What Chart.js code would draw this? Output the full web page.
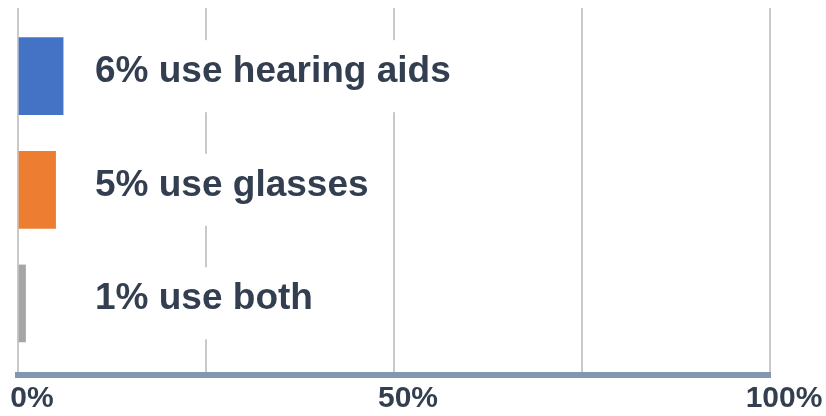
<!DOCTYPE html>
<html lang="en">
<head>
    <meta charset="UTF-8">
    <title>Hearing aids and glasses</title>
    <script src="https://cdn.jsdelivr.net/npm/chart.js"></script>
    <style>
        body {
            margin: 0;
            background: #ffffff;
        }
        #wrap {
            width: 826px;
            height: 416px;
        }
    </style>
</head>
<body>

    <div id="wrap"><canvas id="aidsChart"></canvas></div>

    <script type='text/javascript'>
    // share of people using each aid (%)
    const categories = ['hearing aids', 'glasses', 'both'];
    const shares = [6, 5, 1];
    const barColors = ['#4472C4', '#ED7D31', '#A5A5A5'];
    // x axis: gridlines every 25, labels only on these
    const labelledTicks = [0, 50, 100];

    const FONT = '"Liberation Sans", Arial, sans-serif';
    const INK = '#333F50';

    // bar captions sit on a white box, which breaks the gridlines behind them
    const captions = {
        id: 'captions',
        afterDatasetsDraw(chart) {
            const ctx = chart.ctx;
            const meta = chart.getDatasetMeta(0);
            const x = chart.chartArea.left + 77;
            ctx.save();
            ctx.font = 'bold 37px ' + FONT;
            ctx.textBaseline = 'alphabetic';
            ctx.textAlign = 'left';
            meta.data.forEach((bar, i) => {
                const text = shares[i] + '% use ' + categories[i];
                const w = ctx.measureText(text).width;
                ctx.fillStyle = '#ffffff';
                ctx.fillRect(x - 8, bar.y - 36, w + 16, 72);
                ctx.fillStyle = INK;
                ctx.fillText(text, x, bar.y + 6);
            });
            ctx.restore();
        }
    };

    const ctx = document.getElementById('aidsChart').getContext('2d');

    new Chart(ctx, {
        type: 'bar',
        data: {
            datasets: [{
                data: shares.map((v, i) => ({ x: v, y: i })),
                backgroundColor: barColors,
                borderWidth: 0,
                barThickness: 77
            }]
        },
        options: {
            indexAxis: 'y',
            responsive: true,
            maintainAspectRatio: false,
            animation: false,
            layout: {
                padding: { left: 18, right: 56, top: 8, bottom: 0 }
            },
            plugins: {
                legend: { display: false },
                tooltip: { enabled: false }
            },
            scales: {
                x: {
                    type: 'linear',
                    min: 0,
                    max: 100,
                    ticks: {
                        stepSize: 25,
                        color: INK,
                        font: { family: FONT, size: 30, weight: 'bold' },
                        padding: 6,
                        labelOffset: 14,
                        maxRotation: 0,
                        callback: (v) => labelledTicks.includes(v) ? v + '%' : ''
                    },
                    grid: {
                        color: '#C9C9C9',
                        lineWidth: 2,
                        drawTicks: false
                    },
                    border: {
                        color: '#8497B0',
                        width: 6
                    },
                    afterFit(scale) {
                        scale.height = 41;
                        scale.paddingLeft = 0;
                        scale.paddingRight = 0;
                    }
                },
                y: {
                    type: 'linear',
                    display: false,
                    offset: false,
                    reverse: true,
                    min: -0.6,
                    max: 2.63
                }
            }
        },
        plugins: [captions]
    });
    </script>

</body></html>
